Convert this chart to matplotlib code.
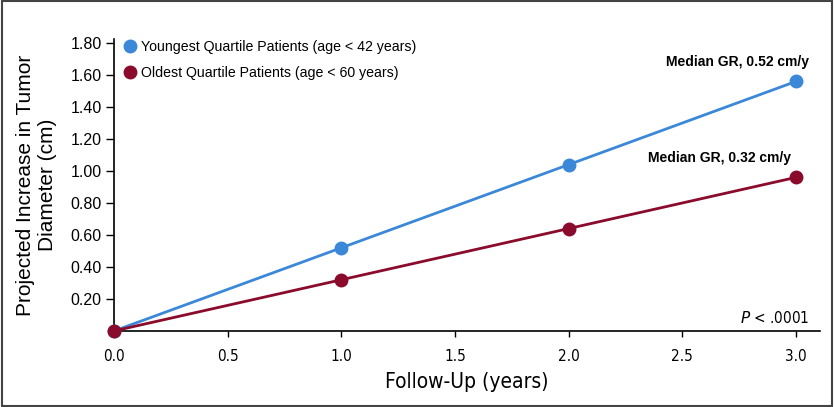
import matplotlib
matplotlib.use("Agg")
import matplotlib.pyplot as plt
from matplotlib.patches import Rectangle

# data
years = [0.0, 1.0, 2.0, 3.0]
young = [0.0, 0.52, 1.04, 1.56]
old = [0.0, 0.32, 0.64, 0.96]
young_label = "Youngest Quartile Patients (age < 42 years)"
old_label = "Oldest Quartile Patients (age < 60 years)"
young_note = "Median GR, 0.52 cm/y"
old_note = "Median GR, 0.32 cm/y"
xticks = [0.0, 0.5, 1.0, 1.5, 2.0, 2.5, 3.0]
yticks = [0.20, 0.40, 0.60, 0.80, 1.00, 1.20, 1.40, 1.60, 1.80]

blue = "#3b88d8"
red = "#8a0b2c"
plt.rcParams["font.family"] = ["Liberation Sans", "DejaVu Sans"]
cond = dict(family="DejaVu Sans", fontstretch="condensed")

fig = plt.figure(figsize=(8.34, 4.07), dpi=100)
fig.patches.append(Rectangle((0.002, 0.003), 0.996, 0.994, transform=fig.transFigure,
                             fill=False, edgecolor="#444444", lw=1.5))
ax = fig.add_axes([0.137, 0.187, 0.846, 0.717])

ax.plot(years, young, "-o", color=blue, lw=2, ms=9, label=young_label, zorder=3)
ax.plot(years, old, "-o", color=red, lw=2, ms=9, label=old_label, zorder=4)

ax.set_xlim(0, 3.105)
ax.set_ylim(0, 1.825)
ax.set_xticks(xticks)
ax.set_xticklabels([f"{v:.1f}" for v in xticks], fontsize=11, **cond)
ax.set_yticks(yticks)
ax.set_yticklabels([f"{v:.2f}" for v in yticks], fontsize=11.5)
ax.tick_params(direction="out", length=6, width=1, color="black")
ax.tick_params(axis="x", length=4, pad=9)
ax.tick_params(axis="y", pad=3)
for s in ["top", "right"]:
    ax.spines[s].set_visible(False)
for s in ["left", "bottom"]:
    ax.spines[s].set_linewidth(1.2)
for ln in ax.lines:
    ln.set_clip_on(False)

ax.set_xlabel("Follow-Up (years)", fontsize=15, labelpad=6, **cond)
ax.set_ylabel("Projected Increase in Tumor\nDiameter (cm)", fontsize=15, labelpad=10)

# legend: markers only
h = [plt.Line2D([], [], ls="", marker="o", ms=9, color=c) for c in (blue, red)]
ax.legend(h, [young_label, old_label], loc="upper left", bbox_to_anchor=(-0.008, 1.04),
          frameon=False, fontsize=10.2, handletextpad=0.2, labelspacing=0.85,
          handlelength=1.2)

ax.annotate(young_note, (years[-1], young[-1]), xytext=(-42, 9), textcoords="offset points",
            ha="center", va="bottom", fontsize=10, fontweight="bold")
ax.annotate(old_note, (years[-1], old[-1]), xytext=(-55, 9), textcoords="offset points",
            ha="center", va="bottom", fontsize=10, fontweight="bold")
ax.text(0.985, 0.018, r"$P$ < .0001", transform=ax.transAxes, ha="right", va="bottom",
        fontsize=11, **cond)

fig.savefig("out.png", dpi=100)
